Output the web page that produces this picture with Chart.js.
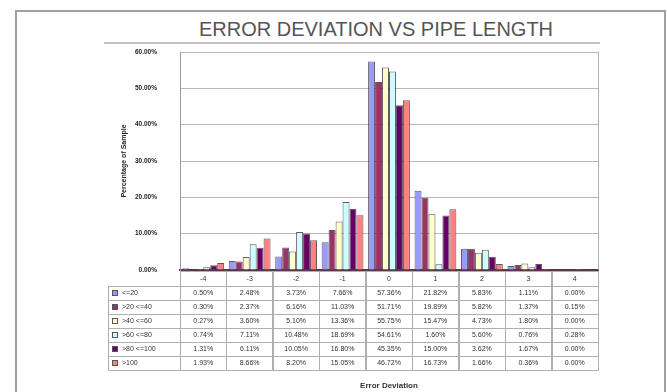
<!DOCTYPE html>
<html>
<head>
<meta charset="utf-8">
<title>Error Deviation vs Pipe Length</title>
<script src="https://cdn.jsdelivr.net/npm/chart.js@4.4.1/dist/chart.umd.min.js"></script>
<style>
  html, body { margin: 0; padding: 0; background: #fff; }
  .chart-card { position: relative; width: 667px; height: 392px; overflow: hidden; background: #fff; }
  .marco { position: absolute; left: 15px; top: 10px; width: 651px; height: 400px; border: 2px solid #a0a0a0; box-sizing: border-box; }
  .titulo { position: absolute; left: 176px; width: 400px; top: 18px; text-align: center; font: 20px "Liberation Sans", Arial, sans-serif; color: #555; line-height: 22px; }
  canvas { position: absolute; left: 0; top: 0; }
</style>
</head>
<body>
<div class="chart-card">
  <div class="marco"></div>
  <div class="titulo">ERROR DEVIATION VS PIPE LENGTH</div>
  <canvas id="chart-desvio" width="667" height="392"></canvas>
</div>
<script>
const categorias = ['-4', '-3', '-2', '-1', '0', '1', '2', '3', '4']

const hasta20 = [0.50, 2.48, 3.73, 7.66, 57.36, 21.82, 5.83, 1.11, 0.00]
const de20a40 = [0.30, 2.37, 6.16, 11.03, 51.71, 19.89, 5.82, 1.37, 0.15]
const de40a60 = [0.27, 3.60, 5.10, 13.36, 55.75, 15.47, 4.73, 1.80, 0.00]
const de60a80 = [0.74, 7.11, 10.48, 18.69, 54.61, 1.60, 5.60, 0.76, 0.28]
const de80a100 = [1.31, 6.11, 10.05, 16.80, 45.35, 15.00, 3.62, 1.67, 0.00]
const mas100 = [1.93, 8.66, 8.20, 15.05, 46.72, 16.73, 1.66, 0.36, 0.00]

const series = [
  { label: '<=20', data: hasta20, color: '#9999FF' },
  { label: '>20 <=40', data: de20a40, color: '#993366' },
  { label: '>40 <=60', data: de40a60, color: '#FFFFCC' },
  { label: '>60 <=80', data: de60a80, color: '#CCFFFF' },
  { label: '>80 <=100', data: de80a100, color: '#660066' },
  { label: '>100', data: mas100, color: '#FF8080' }
]

const fuente = '"Liberation Sans", Arial, sans-serif'

// tabla de datos debajo del eje, alineada con las categorias
const tablaDatos = {
  id: 'tablaDatos',
  beforeDraw(chart) {
    const { ctx, chartArea } = chart
    // borde superior de la pared del grafico
    ctx.save()
    ctx.strokeStyle = '#c9bcc3'
    ctx.lineWidth = 2
    ctx.beginPath()
    ctx.moveTo(104, chartArea.top - 9)
    ctx.lineTo(chartArea.right + 2, chartArea.top - 9)
    ctx.stroke()
    ctx.restore()
  },
  afterDraw(chart) {
    const { ctx, chartArea, scales: { x } } = chart
    const ancho = (x.right - x.left) / categorias.length
    const yCab = chartArea.bottom + 1
    const altoCab = 15
    const altoFila = 14
    const izq = 108

    ctx.save()
    ctx.strokeStyle = '#b0b0b0'
    ctx.lineWidth = 1

    // celdas de cabecera
    categorias.forEach((c, i) => {
      const x0 = x.left + i * ancho
      ctx.strokeRect(Math.round(x0) + 0.5, yCab + 0.5, Math.round(ancho), altoCab)
    })

    ctx.font = `7px ${fuente}`
    ctx.textBaseline = 'middle'

    series.forEach((s, f) => {
      const y0 = yCab + altoCab + f * altoFila
      ctx.strokeStyle = '#b0b0b0'
      ctx.strokeRect(izq + 0.5, Math.round(y0) + 0.5, Math.round(x.left - izq), altoFila)

      // muestra de color
      ctx.fillStyle = s.color
      ctx.fillRect(izq + 4, y0 + 4, 6, 6)
      ctx.strokeStyle = '#555'
      ctx.strokeRect(izq + 4.5, y0 + 4.5, 5, 5)

      ctx.fillStyle = '#333'
      ctx.textAlign = 'left'
      ctx.fillText(s.label, izq + 14, y0 + altoFila / 2 + 0.5)

      ctx.textAlign = 'center'
      s.data.forEach((v, i) => {
        const x0 = x.left + i * ancho
        ctx.strokeStyle = '#b0b0b0'
        ctx.strokeRect(Math.round(x0) + 0.5, Math.round(y0) + 0.5, Math.round(ancho), altoFila)
        ctx.fillStyle = '#333'
        ctx.fillText(v.toFixed(2) + '%', x0 + ancho / 2, y0 + altoFila / 2 + 0.5)
      })
    })

    // pared derecha del area de grafico
    ctx.strokeStyle = '#b0b0b0'
    ctx.beginPath()
    ctx.moveTo(chartArea.right + 0.5, chartArea.top)
    ctx.lineTo(chartArea.right + 0.5, chartArea.bottom)
    ctx.stroke()
    ctx.restore()
  }
}

const ctx = document.getElementById('chart-desvio').getContext('2d')

new Chart(ctx, {
  type: 'bar',
  data: {
    labels: categorias,
    datasets: series.map(s => ({
      label: s.label,
      data: s.data,
      backgroundColor: s.color,
      borderColor: 'rgba(50, 30, 50, 0.75)',
      borderWidth: 1,
      categoryPercentage: 0.9,
      barPercentage: 1.0
    }))
  },
  options: {
    responsive: false,
    animation: false,
    layout: {
      padding: { left: 110, right: 69, top: 52, bottom: 0 }
    },
    plugins: {
      legend: { display: false },
      title: { display: false },
      tooltip: { enabled: false }
    },
    scales: {
      x: {
        grid: { display: false, drawTicks: false },
        border: { color: '#5a3a4a', width: 2 },
        ticks: {
          color: '#333',
          font: { family: fuente, size: 7 },
          padding: 5,
          maxRotation: 0
        },
        title: {
          display: true,
          text: 'Error Deviation',
          color: '#333',
          font: { family: fuente, size: 8, weight: 'bold' },
          padding: { top: 0, bottom: 1 }
        },
        afterFit(scale) { scale.height = 122 }
      },
      y: {
        min: 0,
        max: 60,
        grid: { color: '#b8b8b8', drawTicks: false },
        border: { color: '#9a9a9a' },
        ticks: {
          stepSize: 10,
          color: '#222',
          padding: 23,
          font: { family: fuente, size: 6.5, weight: 'bold' },
          callback: v => v.toFixed(2) + '%'
        },
        title: {
          display: true,
          text: 'Percentage of Sample',
          color: '#222',
          font: { family: fuente, size: 7, weight: 'bold' },
          padding: { top: 10, bottom: 2 }
        },
        afterFit(scale) { scale.width = 70 }
      }
    }
  },
  plugins: [tablaDatos]
})
</script>
</body>
</html>
